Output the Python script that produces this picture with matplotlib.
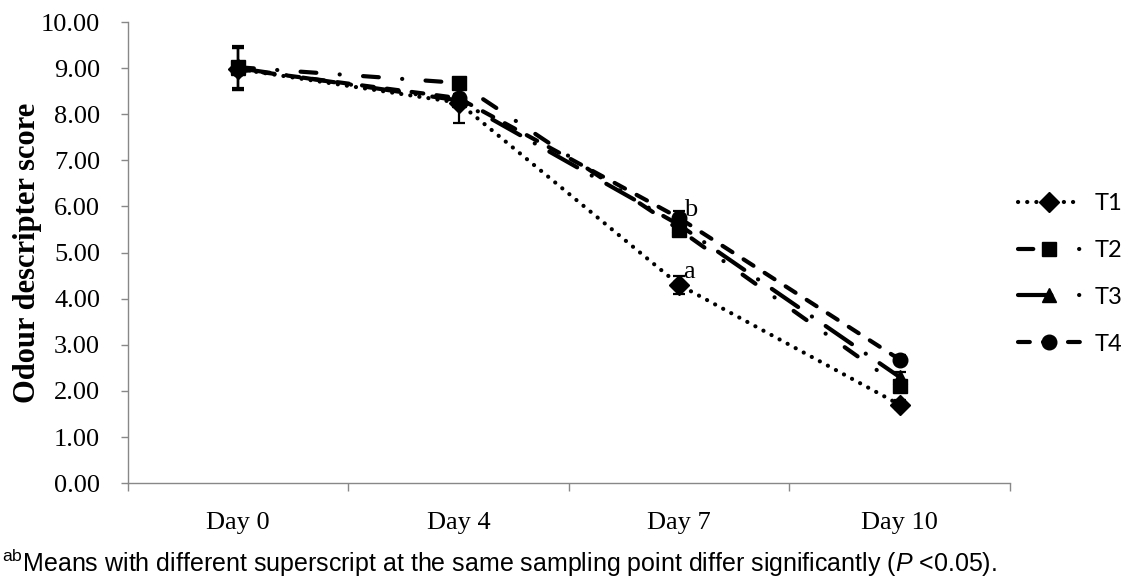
import matplotlib.pyplot as plt
import numpy as np

plt.rcParams['lines.scale_dashes'] = False
plt.rcParams['mathtext.fontset'] = 'custom'
plt.rcParams['mathtext.rm'] = 'Liberation Sans'
plt.rcParams['mathtext.it'] = 'Liberation Sans:italic'

# data
days = ["Day 0", "Day 4", "Day 7", "Day 10"]
t1 = [8.98, 8.25, 4.30, 1.70]
t2 = [9.02, 8.68, 5.50, 2.10]
t3 = [9.00, 8.30, 5.60, 2.30]
t4 = [8.98, 8.35, 5.75, 2.68]
t1_err = [0.45, 0.45, 0.20, 0.10]
t2_err = [0.45, 0.10, 0.15, 0.10]
t3_err = [0.45, 0.10, 0.15, 0.10]
t4_err = [0.45, 0.10, 0.15, 0.10]
labels = ["T1", "T2", "T3", "T4"]

fig = plt.figure(figsize=(11.31, 5.8), dpi=100)
ax = fig.add_axes([0.113, 0.167, 0.78, 0.795])

x = np.arange(len(days))
series = [t1, t2, t3, t4]
errs = [t1_err, t2_err, t3_err, t4_err]
markers = ["D", "s", "^", "o"]
msizes = [10.5, 10.5, 10.5, 10.5]
dashes = [(0, (0.1, 6.5)),
          (0, (11.4, 16.8, 0.1, 16.8)),
          (0, (23, 12, 0.1, 12)),
          (0, (8.5, 9.5))]
# legend keys: same styles, phased so the short key looks like the original
leg_dashes = [(0, (0.1, 6.5)),
              (0, (11, 33, 0.1, 33)),
              (0, (24, 20, 0.1, 20)),
              (0, (8.5, 9.5))]

for vals, err, mk, ms, ls in zip(series, errs, markers, msizes, dashes):
    ax.errorbar(x, vals, yerr=err, fmt="none", ecolor="black", elinewidth=1.6,
                capsize=4.6, capthick=1.6, zorder=2)
    ax.plot(x, vals, color="black", lw=3, linestyle=ls,
            dash_capstyle="round", marker=mk, markersize=ms,
            markerfacecolor="black", markeredgecolor="black", zorder=3)

handles = []
for mk, ms, ls, lab in zip(markers, msizes, leg_dashes, labels):
    h, = ax.plot([], [], color="black", lw=3, linestyle=ls,
                 dash_capstyle="round", marker=mk, markersize=ms, label=lab)
    handles.append(h)

# significance letters at Day 7
ax.text(x[2] + 0.02, t1[2] + 0.27, "a", fontsize=19, family="Liberation Serif",
        ha="left", va="center")
ax.text(x[2] + 0.02, t4[2] + 0.17, "b", fontsize=19, family="Liberation Serif",
        ha="left", va="center")

ax.set_xlim(-0.5, 3.5)
ax.set_ylim(0, 10)
yt = np.arange(0, 10.01, 1)
ax.set_yticks(yt)
ax.set_yticklabels([f"{v:.2f}" for v in yt])
ax.set_xticks(x)
ax.set_xticklabels(days)
ax.set_xticks(np.arange(-0.5, 3.6, 1), minor=True)
ax.tick_params(axis="x", which="major", length=0, pad=21)
ax.tick_params(axis="x", which="minor", length=6, color="#888888", width=1)
ax.tick_params(axis="y", length=5, color="#888888", width=1, pad=15)
for lbl in ax.get_xticklabels() + ax.get_yticklabels():
    lbl.set_family("Liberation Serif")
    lbl.set_fontsize(19)

for s in ["top", "right"]:
    ax.spines[s].set_visible(False)
for s in ["left", "bottom"]:
    ax.spines[s].set_color("#888888")
    ax.spines[s].set_linewidth(1)

ax.set_ylabel("Odour descripter score", family="Liberation Serif",
              fontweight="bold", fontsize=22)
ax.yaxis.set_label_coords(-0.097, 0.5)

fig.legend(handles=handles, loc="center left", bbox_to_anchor=(0.9, 0.528),
           frameon=False, handlelength=2.65, labelspacing=1.1, handletextpad=0.6,
           borderpad=0, borderaxespad=0,
           prop={"family": "Lato", "size": 17})

fig.text(0.002, 0.014,
         r"$^{\mathrm{ab}}$Means with different superscript at the same sampling point "
         r"differ significantly ($\mathit{P}$ <0.05).",
         family="Liberation Sans", fontsize=18, ha="left", va="baseline")

fig.savefig("out.png", dpi=100)
